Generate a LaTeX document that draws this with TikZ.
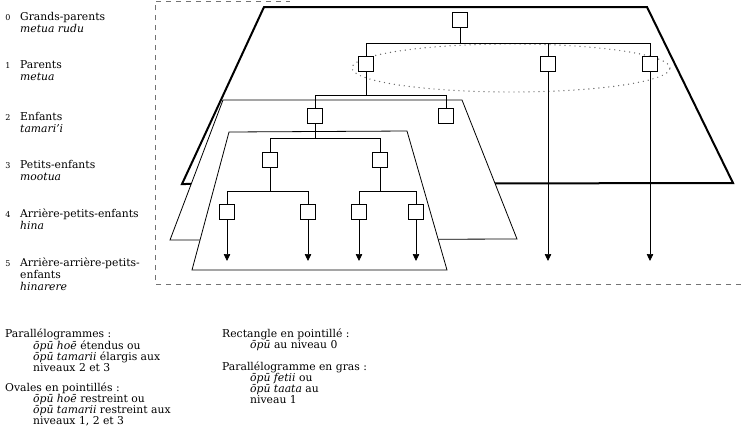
\documentclass[tikz,border=0pt]{standalone}
\usepackage{fontspec}
\setmainfont{DejaVu Serif}
\usetikzlibrary{arrows.meta,calc,positioning}
\tikzset{kin/.style={draw, line width=0.8pt, fill=white, minimum size=15pt, inner sep=0pt},
  tie/.style={line width=0.7pt},
  desc/.style={tie, -{Triangle[length=7pt, width=6.5pt]}},
  para/.style={draw, line width=0.8pt, fill=white},
  grasp/.style={draw, line width=2pt},
  dashframe/.style={black!55, line width=0.8pt, dash pattern=on 5pt off 5pt},
  oval/.style={black!60, line width=1.4pt, line cap=round, dash pattern=on 0pt off 5pt},
  lvl/.style={anchor=north west, inner sep=0pt, align=left, font=\fontsize{10.8}{12}\selectfont},
  leg/.style={anchor=north west, inner sep=0pt, align=left, font=\fontsize{10.8}{11}\selectfont},
  num/.style={anchor=north, inner sep=0pt, font=\fontsize{8}{8}\selectfont}}

\begin{document}
\begin{tikzpicture}[x=1pt, y=-1pt]
  \useasboundingbox (0,0) rectangle (741,440);
  % generations
  \foreach \i/\y in {0/14,1/62,2/114,3/162,4/211,5/260}
    \node[num] (n\i) at (8,\y) {\i};
  \node[lvl] (k0) at (20,12) {Grands-parents\\\textit{metua rudu}};
  \node[lvl] (k1) at (20,60) {Parents\\\textit{metua}};
  \node[lvl] (k2) at (20,112) {Enfants\\\textit{tamari'i}};
  \node[lvl] (k3) at (20,160) {Petits-enfants\\\textit{mootua}};
  \node[lvl] (k4) at (20,209) {Arrière-petits-enfants\\\textit{hina}};
  \node[lvl] (k5) at (20,258) {Arrière-arrière-petits-\\enfants\\\textit{hinarere}};
  % dotted frame
  \draw[dashframe] (741,284) -- (155,284) -- (155,1) -- (290,1);
  % parallelograms
  \draw[grasp] (182,184) -- (264,7) -- (647,7) -- (733,183) -- cycle;
  \draw[para] (170,240) -- (223,100) -- (462,100) -- (517,239) -- cycle;
  \draw[para] (192,270) -- (229,132) -- (407,131) -- (447,270) -- cycle;
  \draw[oval] (511,68) ellipse [x radius=159pt, y radius=24pt];
  % tree
  \node[kin] (gp) at (460,20) {};
  \node[kin] (p1) at (366,64) {};
  \node[kin] (p2) at (548,64) {};
  \node[kin] (p3) at (650,64) {};
  \node[kin] (e1) at (315,116) {};
  \node[kin] (e2) at (446,116) {};
  \node[kin] (pe1) at (270,160) {};
  \node[kin] (pe2) at (380,160) {};
  \node[kin] (a1) at (227,212) {};
  \node[kin] (a2) at (308,212) {};
  \node[kin] (a3) at (359,212) {};
  \node[kin] (a4) at (416,212) {};
  \coordinate (b0) at (0,43);
  \coordinate (b1) at (0,95);
  \coordinate (b2) at (0,138);
  \coordinate (b3) at (0,191);
  \coordinate (tip) at (0,261);
  \draw[tie] (gp.south) -- (gp |- b0);
  \draw[tie] (p1.north) |- (p3.north |- b0) -- (p3.north);
  \draw[tie] (p2.north) -- (p2 |- b0);
  \draw[tie] (p1.south) -- (p1 |- b1);
  \draw[tie] (e1.north) |- (e2.north |- b1) -- (e2.north);
  \draw[tie] (e1.south) -- (e1 |- b2);
  \draw[tie] (pe1.north) |- (pe2.north |- b2) -- (pe2.north);
  \draw[tie] (pe1.south) -- (pe1 |- b3);
  \draw[tie] (a1.north) |- (a2.north |- b3) -- (a2.north);
  \draw[tie] (pe2.south) -- (pe2 |- b3);
  \draw[tie] (a3.north) |- (a4.north |- b3) -- (a4.north);
  \foreach \n in {p2,p3,a1,a2,a3,a4}
    \draw[desc] (\n.south) -- (\n.south |- tip);
  % legend
  \node[leg] (g1) at (5,329) {Parallélogrammes :\\
    \hspace*{28pt}\textit{ōpū hoē} étendus ou\\
    \hspace*{28pt}\textit{ōpū tamarii} élargis aux\\
    \hspace*{28pt}niveaux 2 et 3};
  \node[leg] (g2) at (5,383) {Ovales en pointillés :\\
    \hspace*{28pt}\textit{ōpū hoē} restreint ou\\
    \hspace*{28pt}\textit{ōpū tamarii} restreint aux\\
    \hspace*{28pt}niveaux 1, 2 et 3};
  \node[leg] (g3) at (222,329) {Rectangle en pointillé :\\
    \hspace*{28pt}\textit{ōpū} au niveau 0};
  \node[leg] (g4) at (222,362) {Parallélogramme en gras :\\
    \hspace*{28pt}\textit{ōpū fetii} ou\\
    \hspace*{28pt}\textit{ōpū taata} au\\
    \hspace*{28pt}niveau 1};
\end{tikzpicture}
\end{document}
